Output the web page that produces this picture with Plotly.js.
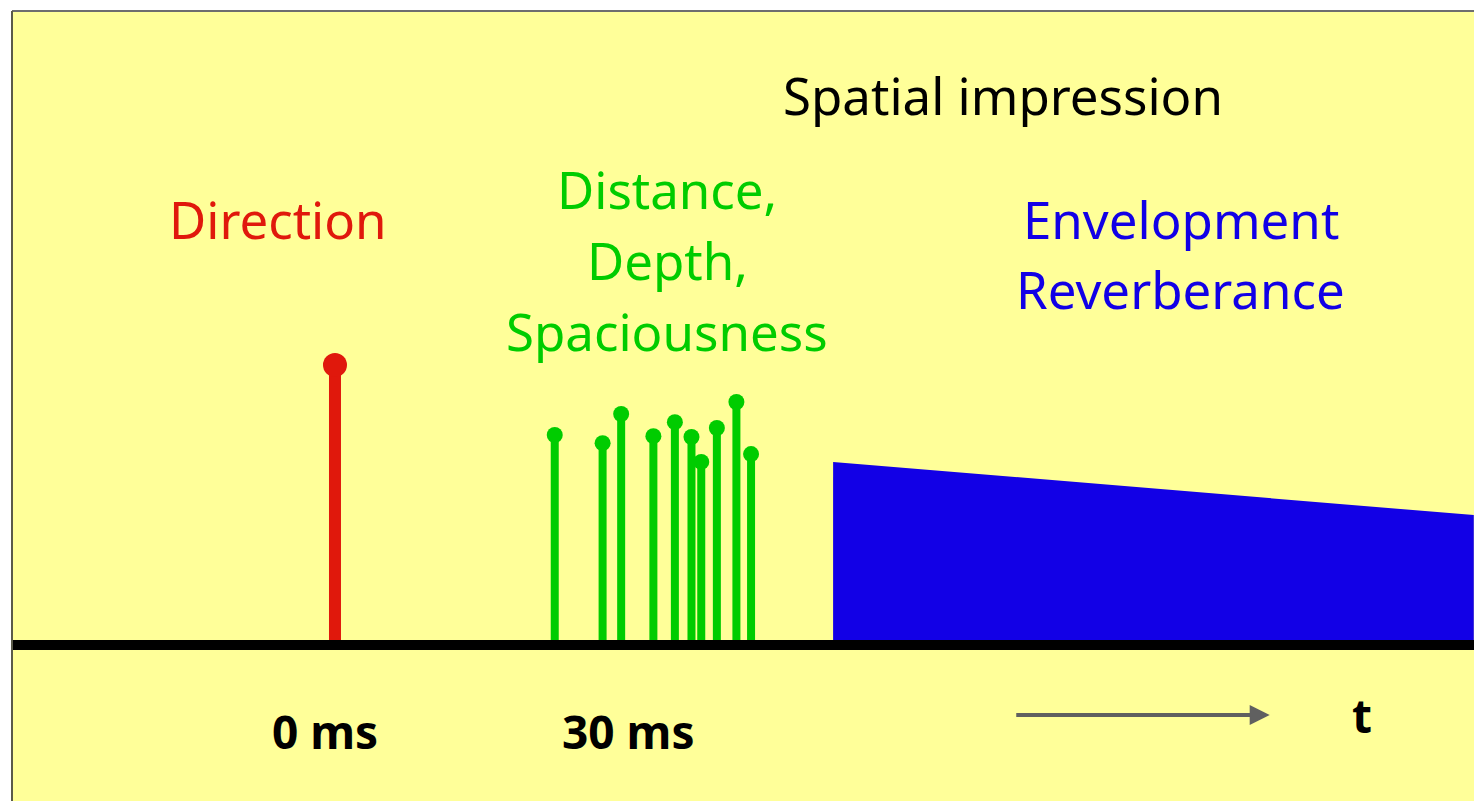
<!DOCTYPE html>
<html>
<head>
<meta charset="utf-8">
<script src="https://cdn.plot.ly/plotly-3.0.1.min.js"></script>
<style>
  html, body { margin: 0; padding: 0; background: #ffffff; }
  #chart { width: 1474px; height: 801px; }
</style>
</head>
<body>
<div id="chart"></div>
<script>
// ---- data (time in ms, amplitude relative to direct sound) ----
const directTimes = [0];
const directAmps = [1.0];

const reflTimes = [22.5, 27.4, 29.3, 32.6, 34.8, 36.5, 37.5, 39.1, 41.1, 42.6];
const reflAmps  = [0.750, 0.721, 0.825, 0.746, 0.796, 0.743, 0.654, 0.775, 0.868, 0.682];

const reverbTimes = [51.0, 116.6];
const reverbAmps  = [0.654, 0.464];

const tickVals   = [0, 30];
const tickLabels = ['0 ms', '30 ms'];

const headings = ['Spatial impression', 'Direction', 'Distance,', 'Depth,', 'Spaciousness', 'Envelopment', 'Reverberance'];
const axisLabel = 't';

// ---- helpers ----
function stems(xs, ys) {
  const x = [], y = [];
  xs.forEach((t, i) => { x.push(t, t, null); y.push(0, ys[i], null); });
  return {x, y};
}

const RED = '#E0180C', GREEN = '#00CC00', BLUE = '#1200E6';
const FONT = '"Noto Sans", "Open Sans", sans-serif';

const ds = stems(directTimes, directAmps);
const rs = stems(reflTimes, reflAmps);

const traces = [
  { // late reverberation block
    x: [reverbTimes[0], reverbTimes[0], reverbTimes[1], reverbTimes[1], reverbTimes[0]],
    y: [0, reverbAmps[0], reverbAmps[1], 0, 0],
    mode: 'lines', fill: 'toself', fillcolor: BLUE,
    line: {color: BLUE, width: 0}, hoverinfo: 'skip'
  },
  { x: rs.x, y: rs.y, mode: 'lines', line: {color: GREEN, width: 8}, hoverinfo: 'skip' },
  { x: reflTimes, y: reflAmps, mode: 'markers', marker: {color: GREEN, size: 16}, hoverinfo: 'skip' },
  { x: ds.x, y: ds.y, mode: 'lines', line: {color: RED, width: 12}, hoverinfo: 'skip' },
  { x: directTimes, y: directAmps, mode: 'markers', marker: {color: RED, size: 24}, hoverinfo: 'skip' }
];

function label(text, x, y, color, size, bold, extra) {
  return Object.assign({
    text: bold ? '<b>' + text + '</b>' : text,
    x: x, y: y, xref: 'x', yref: 'y',
    showarrow: false, xanchor: 'center', yanchor: 'middle',
    font: {family: FONT, size: size, color: color}
  }, extra || {});
}

const annotations = [
  label(headings[0], 68.4, 1.964, '#000000', 51, false),
  label(headings[1], -5.84, 1.522, RED, 51, false),
  label(headings[2], 34.0, 1.629, GREEN, 51, false),
  label(headings[3], 34.0, 1.375, GREEN, 51, false),
  label(headings[4], 34.0, 1.121, GREEN, 51, false),
  label(headings[5], 86.6, 1.522, BLUE, 51, false),
  label(headings[6], 86.6, 1.272, BLUE, 51, false),
  label(tickLabels[0], tickVals[0], -0.307, '#000000', 46, true, {xshift: -10}),
  label(tickLabels[1], tickVals[1], -0.307, '#000000', 46, true),
  label(axisLabel, 105.2, -0.25, '#000000', 46, true),
  { // time arrow
    x: 95.7, y: -0.25, ax: 69.6, ay: -0.25,
    xref: 'x', yref: 'y', axref: 'x', ayref: 'y',
    text: '', showarrow: true, arrowhead: 2, arrowsize: 1.0,
    arrowwidth: 4, arrowcolor: '#606060', standoff: 0
  }
];

const layout = {
  width: 1474, height: 801,
  margin: {l: 12, r: 0, t: 11, b: 0, pad: 0},
  paper_bgcolor: '#ffffff',
  plot_bgcolor: '#FFFF99',
  showlegend: false,
  xaxis: {range: [-33.07, 116.62], showgrid: false, zeroline: false, showticklabels: false, ticks: '', showline: false, fixedrange: true},
  yaxis: {range: [-0.5571, 2.2643], showgrid: false, zeroline: false, showticklabels: false, ticks: '', showline: false, fixedrange: true},
  shapes: [
    {type: 'line', xref: 'paper', yref: 'y', x0: 0, x1: 1, y0: 0, y1: 0, line: {color: '#000000', width: 10}, layer: 'above'},
    {type: 'line', xref: 'paper', yref: 'paper', x0: 0, x1: 1, y0: 1, y1: 1, line: {color: '#6E6E6E', width: 2}, layer: 'above'},
    {type: 'line', xref: 'paper', yref: 'paper', x0: 0, x1: 0, y0: 0, y1: 1, line: {color: '#5A5A4A', width: 2}, layer: 'above'}
  ],
  annotations: annotations
};

Plotly.newPlot('chart', traces, layout, {displayModeBar: false, staticPlot: true});
</script>
</body>
</html>
